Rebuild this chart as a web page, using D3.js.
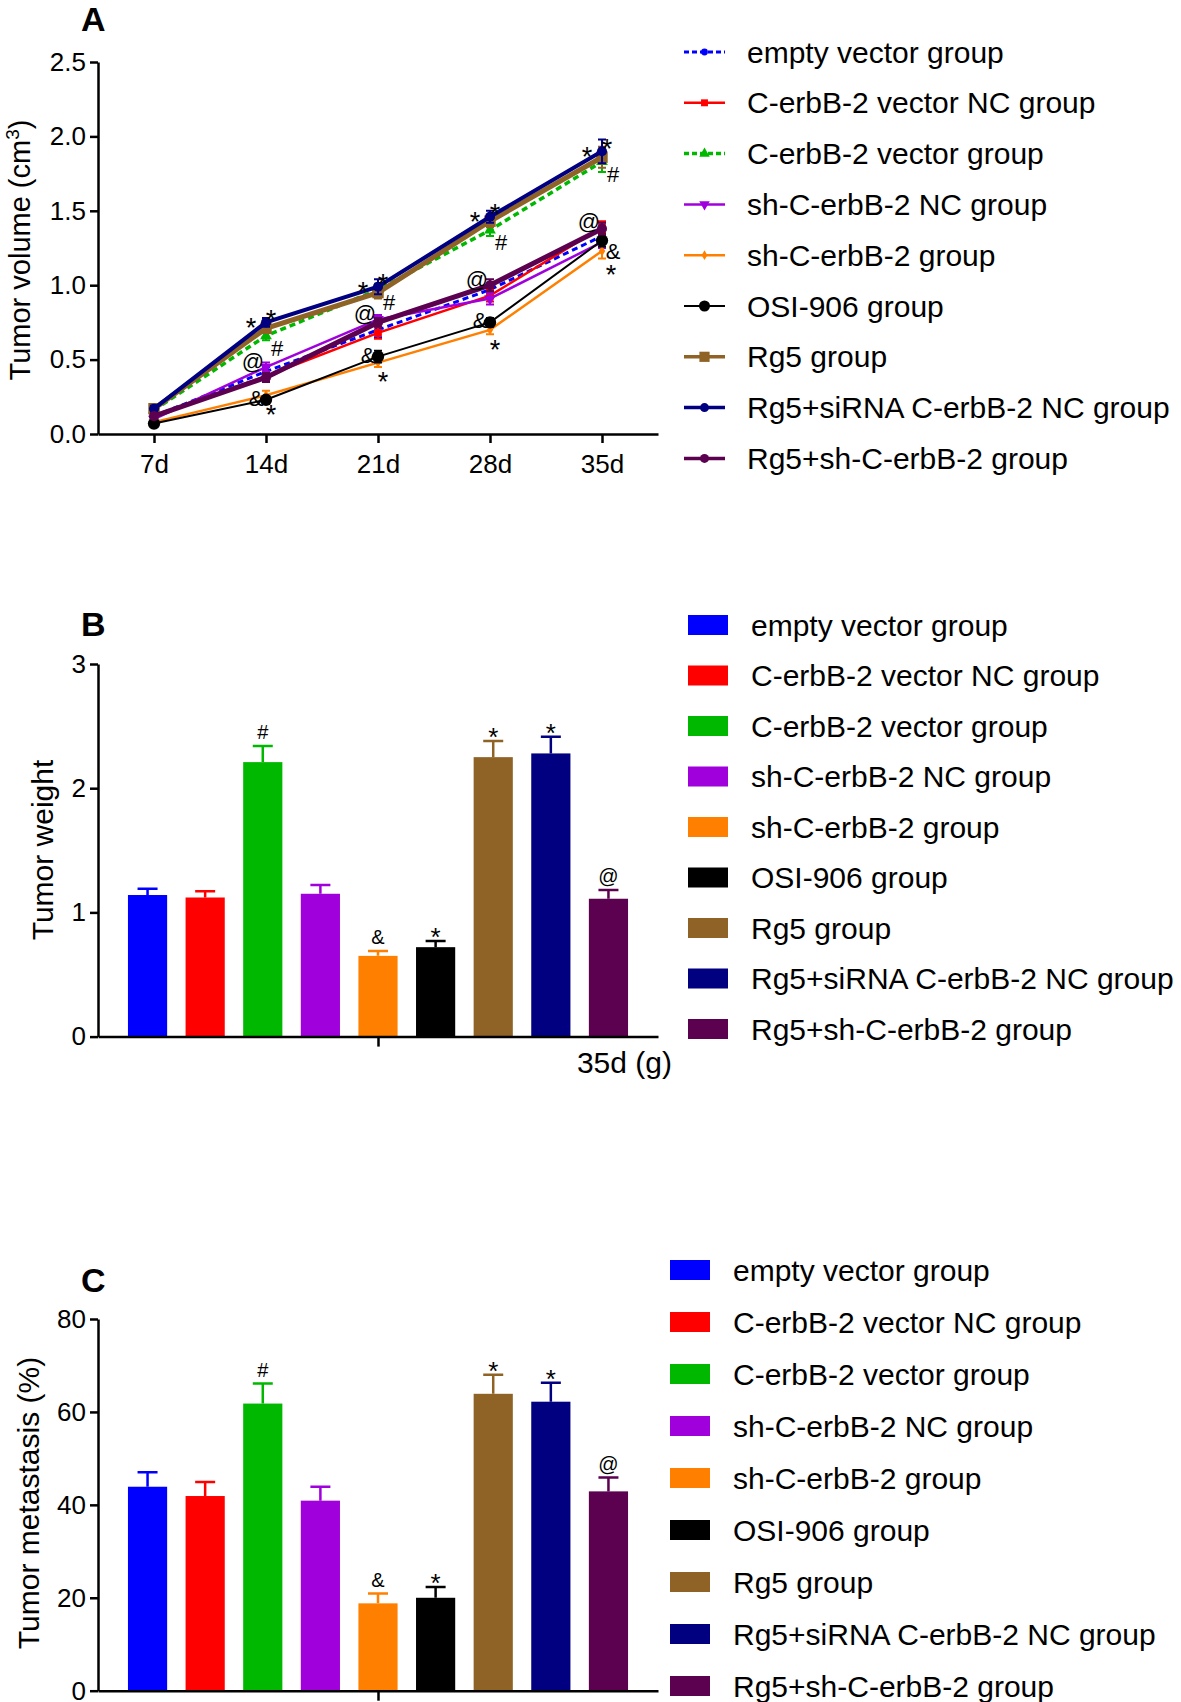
<!DOCTYPE html>
<head>
    <meta charset="utf-8">
    <style>
        body { margin: 0; background: #fff; }
        text { font-family: "Liberation Sans", Arial, Helvetica, sans-serif; fill: #000; }
    </style>
    <script src="https://d3js.org/d3.v7.min.js"></script>
</head>
<body>
<div id="chart"></div>
<script>

// groups, colours and the numbers
var groups = ["empty vector group", "C-erbB-2 vector NC group", "C-erbB-2 vector group",
    "sh-C-erbB-2 NC group", "sh-C-erbB-2 group", "OSI-906 group", "Rg5 group",
    "Rg5+siRNA C-erbB-2 NC group", "Rg5+sh-C-erbB-2 group"];
var colors = ["#0000ff", "#ff0000", "#00b800", "#a000dc", "#ff8000", "#000000", "#8f6226", "#000080", "#5c0050"];

var days = ["7d", "14d", "21d", "28d", "35d"];

// tumor volume (cm3), one row per group
var volumeMean = [
    [0.12, 0.42, 0.70, 0.97, 1.33],
    [0.12, 0.39, 0.68, 0.93, 1.39],
    [0.16, 0.66, 0.97, 1.37, 1.83],
    [0.10, 0.45, 0.77, 0.91, 1.29],
    [0.08, 0.26, 0.48, 0.70, 1.23],
    [0.07, 0.23, 0.52, 0.75, 1.30],
    [0.17, 0.71, 0.95, 1.43, 1.86],
    [0.17, 0.75, 0.99, 1.46, 1.90],
    [0.12, 0.38, 0.75, 1.00, 1.38]
];
var volumeErr = [
    [0.02, 0.03, 0.05, 0.04, 0.05],
    [0.02, 0.03, 0.04, 0.04, 0.04],
    [0.02, 0.03, 0.04, 0.04, 0.07],
    [0.02, 0.03, 0.03, 0.04, 0.04],
    [0.01, 0.03, 0.03, 0.03, 0.05],
    [0.01, 0.02, 0.04, 0.03, 0.04],
    [0.02, 0.03, 0.04, 0.04, 0.07],
    [0.02, 0.03, 0.05, 0.04, 0.08],
    [0.02, 0.03, 0.03, 0.04, 0.04]
];
var volumeTicks = [0, 0.5, 1.0, 1.5, 2.0, 2.5];
var markDays = ["14d", "21d", "28d", "35d"];

// tumor weight at 35d (g)
var weightMean = [1.14, 1.12, 2.21, 1.15, 0.65, 0.72, 2.25, 2.28, 1.11];
var weightErr = [0.05, 0.05, 0.13, 0.07, 0.04, 0.05, 0.13, 0.135, 0.07];
var weightTicks = [0, 1, 2, 3];

// tumor metastasis (%)
var metaMean = [43.9, 41.9, 61.8, 40.9, 18.8, 20.0, 63.9, 62.2, 42.9];
var metaErr = [3.1, 3.0, 4.3, 3.0, 2.1, 2.3, 4.1, 4.1, 3.0];
var metaTicks = [0, 20, 40, 60, 80];

// significance marks over the bars
var barMarks = ["", "", "#", "", "&", "*", "*", "*", "@"];

var W = 1181, H = 1702;
var svg = d3.select("#chart").append("svg")
    .attr("width", W)
    .attr("height", H);
svg.append("rect").attr("width", W).attr("height", H).attr("fill", "#fff");

var left = 98, right = 658;
var font = 26;

function styleAxis(g) {
    g.selectAll("path, line").attr("stroke", "#000").attr("stroke-width", 2.5);
    g.selectAll("text").attr("font-size", font).attr("fill", "#000")
        .attr("font-family", "Liberation Sans, Arial, sans-serif");
}

function panelLetter(txt, y) {
    svg.append("text").attr("x", 81).attr("y", y)
        .attr("font-size", 34).attr("font-weight", "bold").text(txt);
}

// baseline shift so that a glyph's visual centre sits on the wanted point
function centre(s, fs) {
    return s == "*" ? 0.58 * fs : 0.36 * fs;
}

// ---------- A: line chart ----------
panelLetter("A", 31);

var xA = d3.scalePoint().domain(days).range([left, right]).padding(0.5);
var yA = d3.scaleLinear().domain([0, 2.5]).range([434, 62]);

var axA = svg.append("g").attr("transform", "translate(0,434)")
    .call(d3.axisBottom(xA).tickSize(9).tickSizeOuter(0).tickPadding(12));
styleAxis(axA);
var ayA = svg.append("g").attr("transform", "translate(" + left + ",0)")
    .call(d3.axisLeft(yA).tickValues(volumeTicks).tickFormat(d3.format(".1f")).tickSize(8).tickSizeOuter(0).tickPadding(4));
styleAxis(ayA);

var tA = svg.append("text").attr("font-size", 29)
    .attr("transform", "translate(30,250) rotate(-90)")
    .attr("text-anchor", "middle");
tA.append("tspan").text("Tumor volume (cm");
tA.append("tspan").attr("font-size", 19).attr("dy", -11).text("3");
tA.append("tspan").attr("dy", 11).text(")");

var lineW = [3, 2.5, 3.5, 2.5, 2.5, 2, 5, 4, 5];
var dashes = ["6,4", null, "6,4", null, null, null, null, null, null];
var symbols = [
    {t: d3.symbolCircle, s: 45, r: 0},
    {t: d3.symbolSquare, s: 60, r: 0},
    {t: d3.symbolTriangle, s: 60, r: 0},
    {t: d3.symbolTriangle, s: 60, r: 180},
    {t: d3.symbolDiamond, s: 35, r: 0},
    {t: d3.symbolCircle, s: 120, r: 0},
    {t: d3.symbolSquare, s: 130, r: 0},
    {t: d3.symbolCircle, s: 80, r: 0},
    {t: d3.symbolCircle, s: 80, r: 0}
];

var linesA = svg.append("g");
groups.forEach(function(gname, i) {
    var pts = days.map(function(d, j) { return {day: d, v: volumeMean[i][j], e: volumeErr[i][j]}; });
    var g = linesA.append("g");
    g.append("path").datum(pts)
        .attr("fill", "none")
        .attr("stroke", colors[i])
        .attr("stroke-width", lineW[i])
        .attr("stroke-dasharray", dashes[i])
        .attr("d", d3.line().x(d => xA(d.day)).y(d => yA(d.v)));
    g.selectAll(".eb").data(pts).enter().append("path")
        .attr("fill", "none").attr("stroke", colors[i]).attr("stroke-width", 2)
        .attr("d", d => {
            var x = xA(d.day), y0 = yA(d.v - d.e), y1 = yA(d.v + d.e);
            return "M" + (x - 4) + "," + y0 + "H" + (x + 4) + "M" + x + "," + y0 + "V" + y1 + "M" + (x - 4) + "," + y1 + "H" + (x + 4);
        });
    g.selectAll(".pt").data(pts).enter().append("path")
        .attr("fill", colors[i])
        .attr("transform", d => "translate(" + xA(d.day) + "," + yA(d.v) + ") rotate(" + symbols[i].r + ")")
        .attr("d", d3.symbol().type(symbols[i].t).size(symbols[i].s));
});

// marks on the line chart, each placed beside the point of one group
var marksA = svg.append("g").attr("text-anchor", "middle");
markDays.forEach(function(day) {
    var j = days.indexOf(day);
    var last = day == "35d";
    var midTop = d3.max([0, 1, 3, 8], g => volumeMean[g][j]);
    var items = [
        {s: "*", v: volumeMean[7][j], dx: -15, dy: -1},
        {s: "*", v: volumeMean[7][j], dx: 5, dy: -9},
        {s: "#", v: volumeMean[2][j], dx: 11, dy: 12},
        {s: "@", v: midTop, dx: -13, dy: -6},
        {s: "&", v: volumeMean[5][j], dx: last ? 11 : -10, dy: last ? 11 : -2},
        {s: "*", v: volumeMean[4][j], dx: last ? 9 : 5, dy: last ? 17 : 13}
    ];
    items.forEach(function(m) {
        var fs = m.s == "*" ? 27 : 22;
        marksA.append("text")
            .attr("font-size", fs)
            .attr("x", xA(day) + m.dx)
            .attr("y", yA(m.v) + m.dy + centre(m.s, fs))
            .text(m.s);
    });
});

// legend A
var legA = svg.append("g");
groups.forEach(function(gname, i) {
    var cy = 52 + i * 50.8;
    legA.append("line").attr("x1", 684).attr("x2", 725).attr("y1", cy).attr("y2", cy)
        .attr("stroke", colors[i]).attr("stroke-width", Math.min(lineW[i], 3.5))
        .attr("stroke-dasharray", dashes[i] ? "5,3" : null);
    legA.append("path").attr("fill", colors[i])
        .attr("transform", "translate(704.5," + cy + ") rotate(" + symbols[i].r + ")")
        .attr("d", d3.symbol().type(symbols[i].t).size(symbols[i].s * 0.8));
    legA.append("text").attr("x", 747).attr("y", cy + 10.5).attr("font-size", 30).text(gname);
});

// ---------- bar panels ----------
var xB = d3.scaleBand().domain(groups).range([left, right]).paddingInner(0.32).paddingOuter(0.52);

function barPanel(opt) {
    var y = d3.scaleLinear().domain(opt.domain).range([opt.y0, opt.y1]);
    var g = svg.append("g");

    g.selectAll(".bar").data(groups).enter().append("rect")
        .attr("x", d => xB(d))
        .attr("width", xB.bandwidth())
        .attr("y", (d, i) => y(opt.mean[i]))
        .attr("height", (d, i) => y(0) - y(opt.mean[i]))
        .attr("fill", (d, i) => colors[i]);

    g.selectAll(".err").data(groups).enter().append("path")
        .attr("fill", "none")
        .attr("stroke", (d, i) => colors[i])
        .attr("stroke-width", 2.5)
        .attr("d", (d, i) => {
            var cx = xB(d) + xB.bandwidth() / 2, yt = y(opt.mean[i] + opt.err[i]);
            return "M" + cx + "," + y(opt.mean[i]) + "V" + yt + "M" + (cx - 10) + "," + yt + "H" + (cx + 10);
        });

    g.selectAll(".mk").data(groups).enter().append("text")
        .attr("x", d => xB(d) + xB.bandwidth() / 2)
        .attr("font-size", (d, i) => barMarks[i] == "*" ? 26 : 20)
        .attr("y", (d, i) => {
            var s = barMarks[i], fs = s == "*" ? 26 : 20;
            return y(opt.mean[i] + opt.err[i]) - (s == "*" ? 10 : 14) + centre(s, fs);
        })
        .attr("text-anchor", "middle")
        .text((d, i) => barMarks[i]);

    var xa = g.append("g").attr("transform", "translate(0," + opt.y0 + ")")
        .call(d3.axisBottom(d3.scalePoint().domain(["35d"]).range([left, right]).padding(0.5))
            .tickSize(10).tickSizeOuter(0).tickFormat(""));
    styleAxis(xa);
    var ya = g.append("g").attr("transform", "translate(" + left + ",0)")
        .call(d3.axisLeft(y).tickValues(opt.ticks).tickFormat(d3.format("d")).tickSize(8).tickSizeOuter(0).tickPadding(4));
    styleAxis(ya);

    g.append("text").attr("font-size", 30).attr("text-anchor", "middle")
        .attr("transform", "translate(" + opt.titleX + "," + opt.titleY + ") rotate(-90)")
        .text(opt.title);

    // legend
    groups.forEach(function(gname, i) {
        var cy = opt.legY + i * opt.legStep;
        g.append("rect").attr("x", opt.legX).attr("y", cy - 10).attr("width", 40).attr("height", 20)
            .attr("fill", colors[i]);
        g.append("text").attr("x", opt.legX + 63).attr("y", cy + 10.5).attr("font-size", 30).text(gname);
    });
    return g;
}

panelLetter("B", 636);
var gB = barPanel({
    domain: [0, 3], y0: 1036.6, y1: 664, mean: weightMean, err: weightErr, ticks: weightTicks,
    title: "Tumor weight", titleX: 53, titleY: 850,
    legX: 688, legY: 625, legStep: 50.5
});
gB.append("text").attr("x", 672).attr("y", 1073).attr("text-anchor", "end").attr("font-size", 30).text("35d (g)");

panelLetter("C", 1292);
barPanel({
    domain: [0, 80], y0: 1690.7, y1: 1319, mean: metaMean, err: metaErr, ticks: metaTicks,
    title: "Tumor metastasis (%)", titleX: 39, titleY: 1503,
    legX: 670, legY: 1270, legStep: 52
});

</script>
</body>
